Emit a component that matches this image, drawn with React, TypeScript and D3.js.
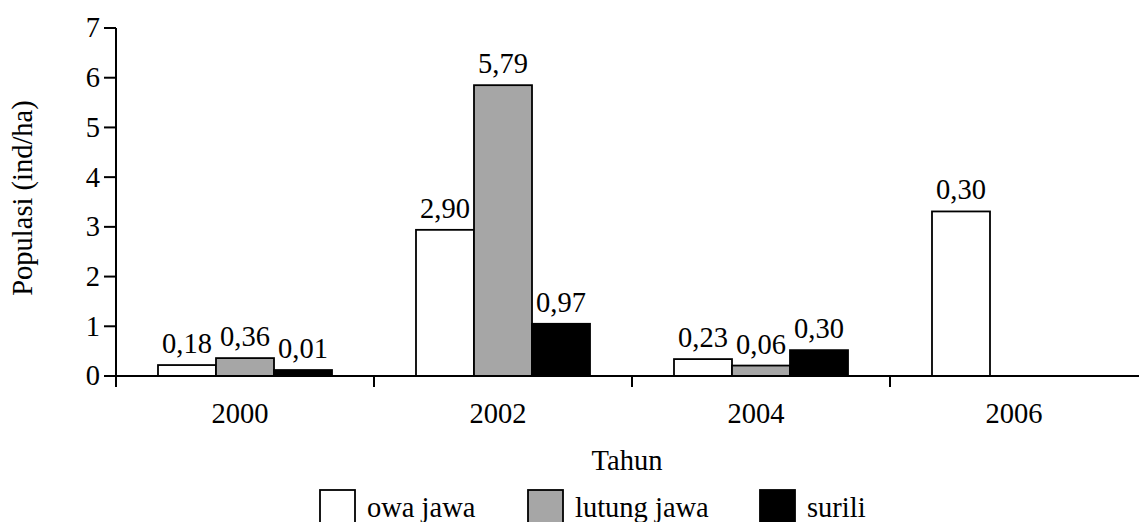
import React from "react";
import * as d3 from "d3";

const years = ["2000", "2002", "2004", "2006"];
const seriesNames = ["owa jawa", "lutung jawa", "surili"];
const owaJawa: (number | null)[] = [0.22, 2.94, 0.34, 3.31];
const lutungJawa: (number | null)[] = [0.36, 5.85, 0.21, null];
const surili: (number | null)[] = [0.12, 1.05, 0.52, null];
const owaLabels: (string | null)[] = ["0,18", "2,90", "0,23", "0,30"];
const lutungLabels: (string | null)[] = ["0,36", "5,79", "0,06", null];
const suriliLabels: (string | null)[] = ["0,01", "0,97", "0,30", null];
const yTicks = [0, 1, 2, 3, 4, 5, 6, 7];
const yTitle = "Populasi (ind/ha)";
const xTitle = "Tahun";

const W = 1139;
const H = 522;
const FONT = "Liberation Serif, Times New Roman, Times, DejaVu Serif, serif";
const FS = 28.5;

export default function App() {
  const x0 = d3.scaleBand<string>().domain(years).range([116, 1148]).padding(0);
  const x1 = d3
    .scaleBand<string>()
    .domain(seriesNames)
    .range([0, x0.bandwidth()])
    .paddingInner(0)
    .paddingOuter(0.724);
  const y = d3.scaleLinear().domain([0, 7]).range([376, 28]);

  const series = [
    { name: seriesNames[0], values: owaJawa, labels: owaLabels, fill: "#ffffff" },
    { name: seriesNames[1], values: lutungJawa, labels: lutungLabels, fill: "#a6a6a6" },
    { name: seriesNames[2], values: surili, labels: suriliLabels, fill: "#000000" },
  ];

  const legendX = [320, 528, 760];
  const ts: React.CSSProperties = { fontFamily: FONT, fontSize: FS };

  return (
    <svg
      width={W}
      height={H}
      style={{ position: "absolute", left: 0, top: 0, background: "#fff" }}
    >
      <rect x={0} y={0} width={W} height={H} fill="#fff" />
      {series.map((s) =>
        years.map((yr, i) => {
          const v = s.values[i];
          if (v == null) return null;
          const bx = (x0(yr) as number) + (x1(s.name) as number);
          return (
            <rect
              key={s.name + yr}
              x={bx}
              y={y(v)}
              width={x1.bandwidth()}
              height={y(0) - y(v)}
              fill={s.fill}
              stroke="#000"
              strokeWidth={1.8}
            />
          );
        })
      )}
      {series.map((s) =>
        years.map((yr, i) => {
          const v = s.values[i];
          const lab = s.labels[i];
          if (v == null || lab == null) return null;
          const cx = (x0(yr) as number) + (x1(s.name) as number) + x1.bandwidth() / 2;
          return (
            <text key={"l" + s.name + yr} x={cx} y={y(v) - 12} textAnchor="middle" fill="#000" style={ts}>
              {lab}
            </text>
          );
        })
      )}
      <line x1={116} x2={116} y1={y(7)} y2={387} stroke="#000" strokeWidth={2} />
      {yTicks.map((t) => (
        <g key={"yt" + t}>
          <line x1={104} x2={116} y1={y(t)} y2={y(t)} stroke="#000" strokeWidth={2} />
          <text x={100} y={y(t)} dy="0.33em" textAnchor="end" fill="#000" style={ts}>
            {t}
          </text>
        </g>
      ))}
      <line x1={116} x2={1148} y1={y(0)} y2={y(0)} stroke="#000" strokeWidth={2} />
      {years.map((yr) => (
        <g key={"xt" + yr}>
          <line
            x1={(x0(yr) as number) + x0.bandwidth()}
            x2={(x0(yr) as number) + x0.bandwidth()}
            y1={y(0)}
            y2={387}
            stroke="#000"
            strokeWidth={2}
          />
          <text
            x={(x0(yr) as number) + x0.bandwidth() / 2 - 5}
            y={423}
            textAnchor="middle"
            fill="#000"
            style={ts}
          >
            {yr}
          </text>
        </g>
      ))}
      <text x={627} y={470} textAnchor="middle" fill="#000" style={ts}>
        {xTitle}
      </text>
      <text transform="translate(32,198) rotate(-90)" textAnchor="middle" fill="#000" style={ts}>
        {yTitle}
      </text>
      {series.map((s, i) => (
        <g key={"lg" + s.name}>
          <rect
            x={legendX[i]}
            y={490}
            width={35}
            height={36}
            fill={s.fill}
            stroke="#000"
            strokeWidth={1.8}
          />
          <text x={legendX[i] + 47} y={517} fill="#000" style={ts}>
            {s.name}
          </text>
        </g>
      ))}
    </svg>
  );
}
